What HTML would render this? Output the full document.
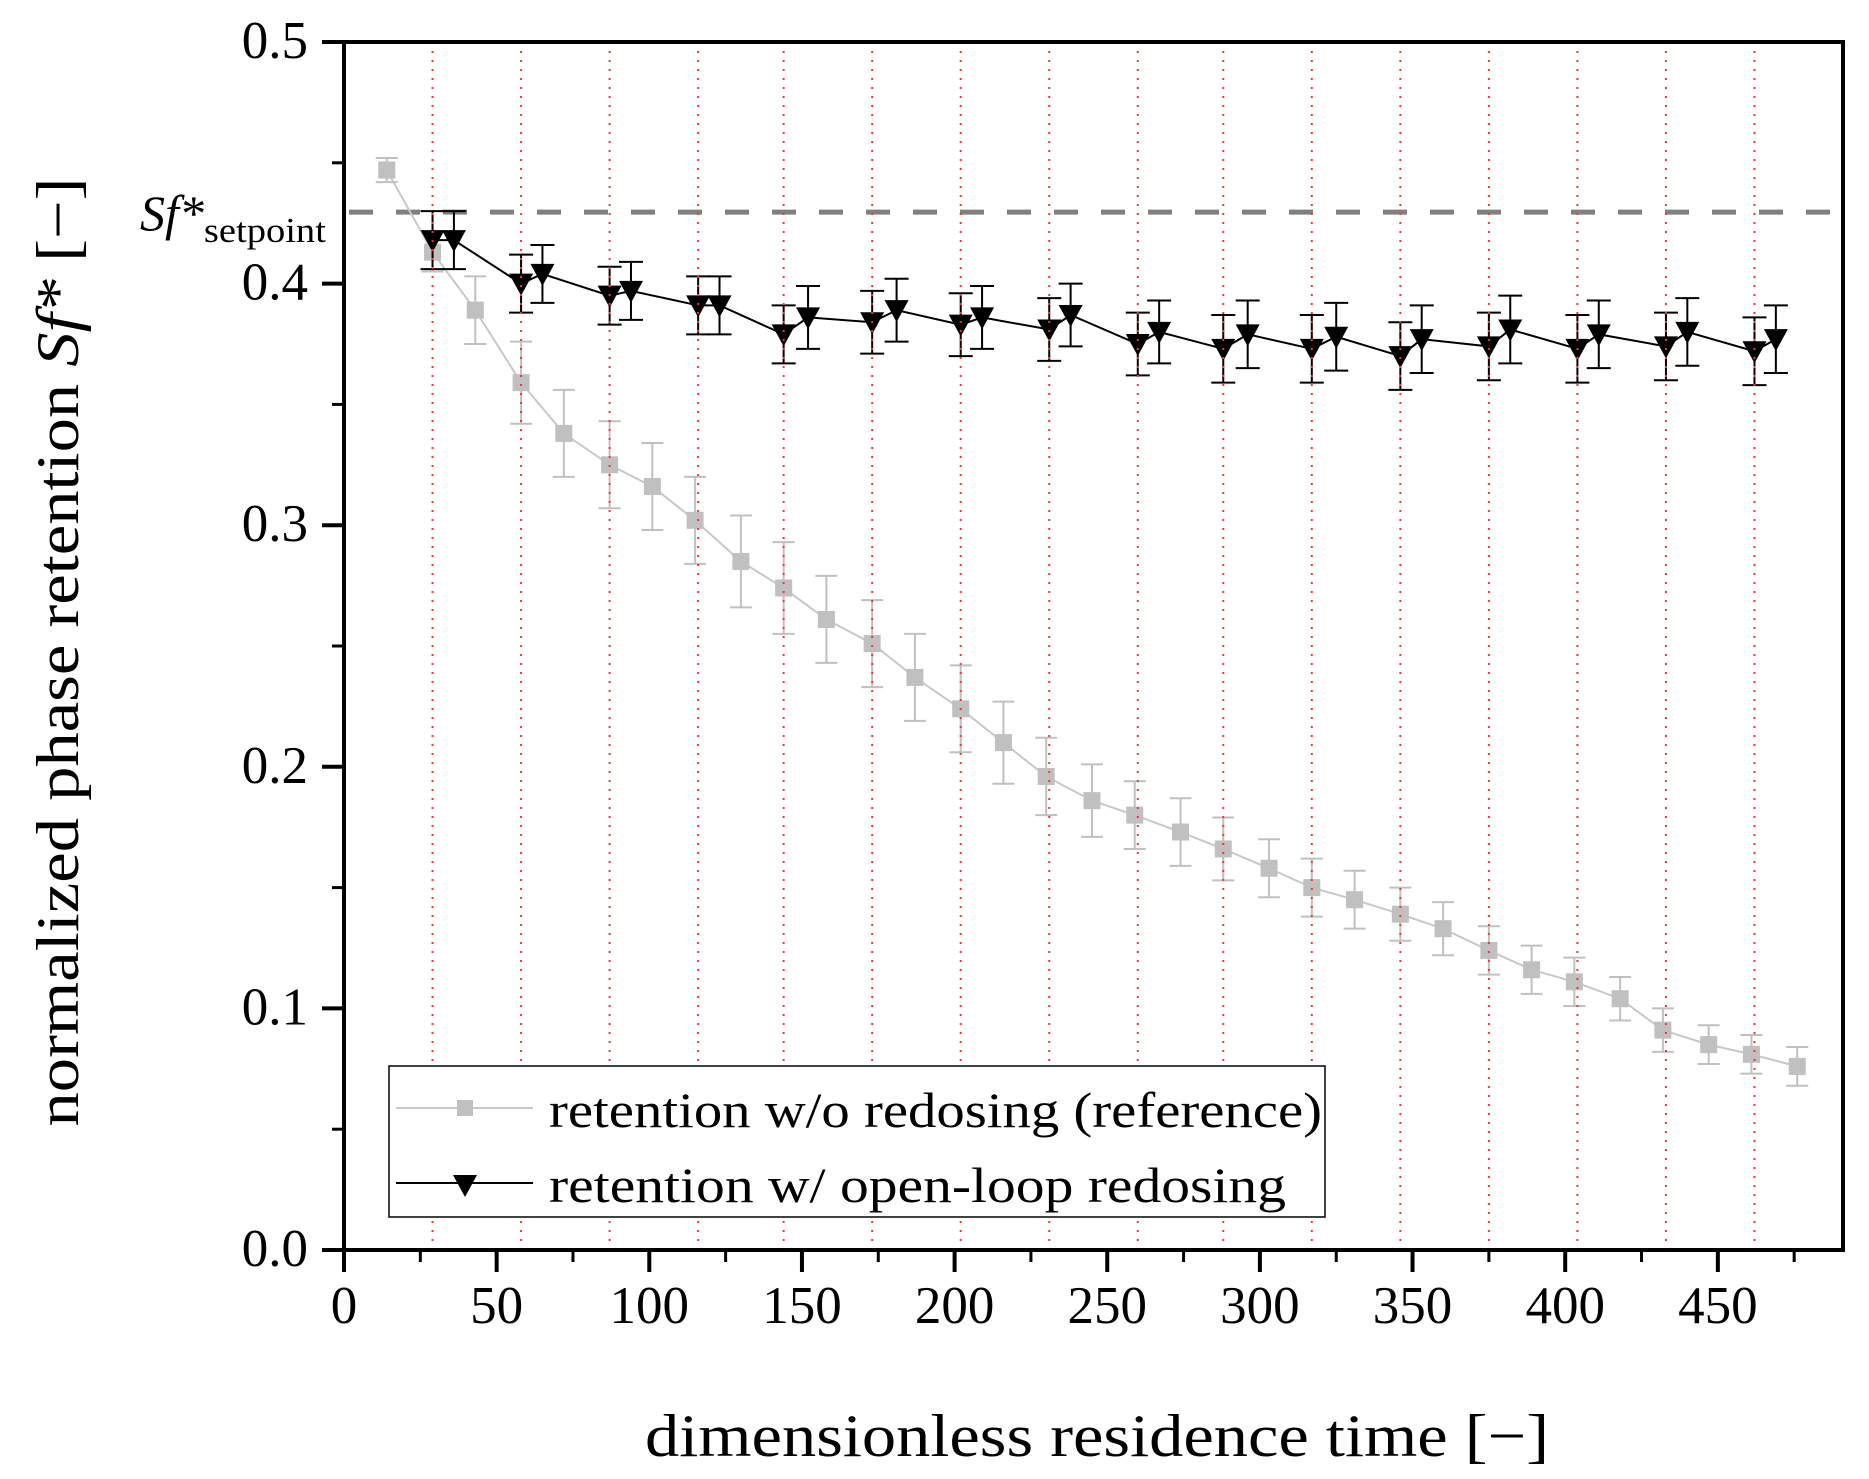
<!DOCTYPE html>
<html><head><meta charset="utf-8"><style>
html,body{margin:0;padding:0;background:#fff;}
svg{display:block;font-family:"Liberation Serif",serif;}
</style></head><body>
<svg id="chart" width="1869" height="1479" viewBox="0 0 1869 1479" xmlns="http://www.w3.org/2000/svg">
<g id="grid"></g>
<g id="plot"></g>
<g id="axes"></g>
<text x="140" y="230" font-size="50"><tspan font-style="italic">Sf*</tspan><tspan font-size="35" dy="12" textLength="122" lengthAdjust="spacingAndGlyphs">setpoint</tspan></text>
<text transform="translate(78,652) rotate(-90)" text-anchor="middle" font-size="60" textLength="949" lengthAdjust="spacingAndGlyphs">normalized phase retention <tspan font-style="italic">Sf*</tspan> [−]</text>
<text x="645" y="1456" font-size="60" textLength="904" lengthAdjust="spacingAndGlyphs">dimensionless residence time [−]</text>
<g>
<rect x="389" y="1066" width="936" height="151" fill="#fff" stroke="#000" stroke-width="1.5"/>
<g>
<line x1="396" y1="1108" x2="533" y2="1108" stroke="#c8c8c8" stroke-width="2"/>
<rect x="457" y="1100" width="16" height="16" fill="#c0c0c0"/>
<text x="549" y="1127" font-size="50" textLength="773" lengthAdjust="spacingAndGlyphs">retention w/o redosing (reference)</text>
</g>
<g>
<line x1="396" y1="1183" x2="533" y2="1183" stroke="#000" stroke-width="2"/>
<polygon points="453,1175 477,1175 465,1197" fill="#000"/>
<text x="549" y="1202" font-size="50" textLength="737" lengthAdjust="spacingAndGlyphs">retention w/ open-loop redosing</text>
</g>
</g>
</svg>
<script>
const refX=[14,29,43,58,72,87,101,115,130,144,158,173,187,202,216,230,245,259,274,288,303,317,331,346,360,375,389,403,418,432,447,461,476];
const refY=[.447,.413,.389,.359,.338,.325,.316,.302,.285,.274,.261,.251,.237,.224,.210,.196,.186,.180,.173,.166,.158,.150,.145,.139,.133,.124,.116,.111,.104,.091,.085,.081,.076];
const refErr=[.005,.008,.014,.017,.018,.018,.018,.018,.019,.019,.018,.018,.018,.018,.017,.016,.015,.014,.014,.013,.012,.012,.012,.011,.011,.010,.010,.010,.009,.009,.008,.008,.008];
const redX=[29,36,58,65,87,94,116,123,144,152,173,181,202,209,231,238,260,267,288,296,317,325,346,353,375,382,404,411,433,440,462,469];
const redY=[.418,.418,.400,.404,.395,.397,.391,.391,.379,.386,.384,.389,.383,.386,.381,.387,.375,.380,.373,.379,.373,.378,.370,.377,.374,.381,.373,.379,.374,.380,.372,.377];
const redErr=[.012,.012,.012,.012,.012,.012,.012,.012,.012,.013,.013,.013,.013,.013,.013,.013,.013,.013,.014,.014,.014,.014,.014,.014,.014,.014,.014,.014,.014,.014,.014,.014];
const doseX=[29,58,87,116,144,173,202,231,260,288,317,346,375,404,433,462];
const xTicks=[0,50,100,150,200,250,300,350,400,450];
const yTicks=[0.0,0.1,0.2,0.3,0.4,0.5];
const yTickLabels=["0.0","0.1","0.2","0.3","0.4","0.5"];
const setpoint=0.4296;
const NS="http://www.w3.org/2000/svg";
const L=344,R=1843,T=42,B=1250,XMAX=(R-L)/3.053;
const sx=v=>L+v*3.053, sy=v=>B-(v/0.5)*(B-T);
function mk(p,tag,at){const e=document.createElementNS(NS,tag);for(const k in at)e.setAttribute(k,at[k]);p.appendChild(e);return e;}
const plot=document.getElementById('plot'),axes=document.getElementById('axes'),grid=document.getElementById('grid');
let sp=mk(plot,'line',{x1:L+5,x2:R,y1:sy(setpoint),y2:sy(setpoint),stroke:'#808080','stroke-width':5,'stroke-dasharray':'24,23'});


let pts=refX.map((x,i)=>sx(x)+','+sy(refY[i])).join(' ');
let rl=mk(plot,'polyline',{points:pts,fill:'none',stroke:'#c8c8c8','stroke-width':2});


refX.forEach((x,i)=>{
 const g=mk(plot,'g',{stroke:'#c0c0c0','stroke-width':2});
 
 
 const X=sx(x),y1=sy(refY[i]+refErr[i]),y2=sy(refY[i]-refErr[i]);
 mk(g,'line',{x1:X,x2:X,y1:y1,y2:y2});
 mk(g,'line',{x1:X-11,x2:X+11,y1:y1,y2:y1});
 mk(g,'line',{x1:X-11,x2:X+11,y1:y2,y2:y2});
 const m=mk(plot,'rect',{x:X-8.5,y:sy(refY[i])-8.5,width:17,height:17,fill:'#c0c0c0'});
 
 
});
pts=redX.map((x,i)=>sx(x)+','+sy(redY[i])).join(' ');
let bl=mk(plot,'polyline',{points:pts,fill:'none',stroke:'#000','stroke-width':2});


redX.forEach((x,i)=>{
 const g=mk(plot,'g',{stroke:'#000','stroke-width':2});
 
 
 const X=sx(x),y1=sy(redY[i]+redErr[i]),y2=sy(redY[i]-redErr[i]);
 mk(g,'line',{x1:X,x2:X,y1:y1,y2:y2});
 mk(g,'line',{x1:X-12,x2:X+12,y1:y1,y2:y1});
 mk(g,'line',{x1:X-12,x2:X+12,y1:y2,y2:y2});
 const Y=sy(redY[i]);
 const m=mk(plot,'polygon',{points:`${X-12},${Y-10} ${X+12},${Y-10} ${X},${Y+12}`,fill:'#000'});
 
 
});
doseX.forEach(x=>{
 const l=mk(axes,'line',{x1:sx(x),x2:sx(x),y1:T,y2:B,stroke:'#ff3030','stroke-width':2,'stroke-dasharray':'2,7'});
 
 
});
let fr=mk(axes,'rect',{x:L,y:T,width:R-L,height:B-T,fill:'none',stroke:'#000','stroke-width':4});


xTicks.forEach(v=>{
 const X=sx(v);
 const t=mk(axes,'line',{x1:X,x2:X,y1:B,y2:B+22,stroke:'#000','stroke-width':4});
 
 
 const tx=mk(axes,'text',{x:X,y:B+73,'text-anchor':'middle','font-size':53});
 tx.textContent=v;
 
 
 if(v+25<XMAX){const m=mk(axes,'line',{x1:sx(v+25),x2:sx(v+25),y1:B,y2:B+12,stroke:'#000','stroke-width':3});
 
 }
});
yTicks.forEach((v,i)=>{
 const Y=sy(v);
 const t=mk(axes,'line',{x1:L-22,x2:L,y1:Y,y2:Y,stroke:'#000','stroke-width':4});
 
 
 const tx=mk(axes,'text',{x:L-36,y:Y+16,'text-anchor':'end','font-size':53});
 tx.textContent=yTickLabels[i];
 
 
 if(v<0.5){const m=mk(axes,'line',{x1:L-12,x2:L,y1:sy(v+0.05),y2:sy(v+0.05),stroke:'#000','stroke-width':3});
 
 }
});
</script>
</body></html>
